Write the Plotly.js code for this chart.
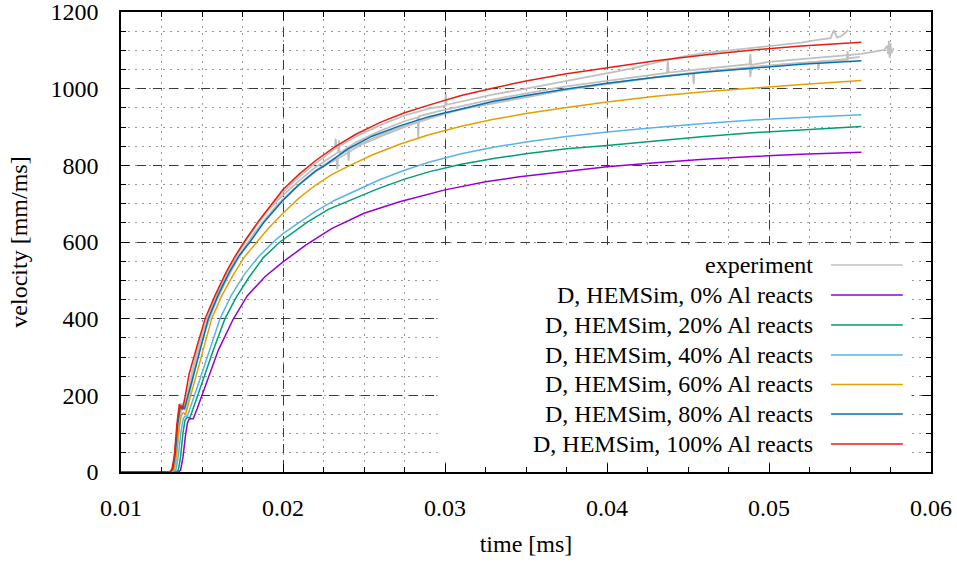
<!DOCTYPE html>
<html>
<head>
<meta charset="utf-8">
<script src="https://cdn.plot.ly/plotly-3.0.1.min.js"></script>
</head>
<body style="margin:0">
<div id="chart" style="width:957px;height:562px"></div>
<div style="font-family:'Liberation Serif';font-size:24px">time [ms] velocity [mm/ms] experiment D, HEMSim, 0% 20% 40% 60% 80% 100% Al reacts 0.01 1200</div>
<script>
// ---------- data ----------
var seriesNames = ["experiment", "D, HEMSim, 0% Al reacts", "D, HEMSim, 20% Al reacts",
  "D, HEMSim, 40% Al reacts", "D, HEMSim, 60% Al reacts", "D, HEMSim, 80% Al reacts",
  "D, HEMSim, 100% Al reacts"];

// experiment traces (time in ms, velocity in mm/ms)
var expA_t = [0.0100,0.0131,0.01325,0.0134,0.01355,0.0137,0.0138,0.0139,0.0141,0.0144,0.0147,0.0150,0.0155,0.0160,0.0166,0.0172,0.0178,0.0185,0.0192,0.0200,0.0210,0.0220,0.0232,0.02325,0.0233,0.0245,0.0260,0.0275,0.0290,0.0300,0.03005,0.0301,0.0310,0.0320,0.0330,0.0346,0.0360,0.0375,0.0390,0.0400,0.0415,0.0430,0.0445,0.0460,0.0475,0.0490,0.0500,0.0510,0.0520,0.0530,0.0538,0.0540,0.0542,0.0545,0.0549];
var expA_v = [0,0,20,80,150,178,172,168,205,265,320,362,420,470,525,570,612,652,690,730,770,805,843,870,845,875,905,930,948,955,985,958,967,976,985,997,1008,1020,1033,1040,1052,1068,1082,1093,1100,1106,1110,1115,1120,1127,1132,1152,1133,1138,1153];

var expB_t = [0.0100,0.0131,0.01325,0.0134,0.01355,0.01368,0.0138,0.01392,0.0141,0.0144,0.0147,0.0150,0.0155,0.0160,0.0166,0.0172,0.0178,0.0185,0.0192,0.0200,0.0210,0.0220,0.0228,0.0234,0.02345,0.0235,0.0245,0.0260,0.0275,0.0283,0.02835,0.0284,0.0295,0.0310,0.0325,0.0340,0.0355,0.0370,0.0385,0.0400,0.0415,0.0430,0.0437,0.04375,0.0438,0.0445,0.0460,0.0475,0.0488,0.04885,0.0489,0.0500,0.0515,0.0530,0.0545,0.0557,0.0565,0.0571,0.0573,0.05735,0.0574,0.05745,0.0575,0.05755,0.0577];
var expB_v = [0,0,12,60,135,168,172,166,205,262,318,360,418,470,522,568,610,652,688,722,760,795,818,834,865,832,860,890,915,925,868,928,940,955,968,980,992,1003,1012,1020,1028,1037,1041,1075,1042,1045,1052,1058,1064,1090,1062,1070,1075,1080,1086,1091,1097,1101,1112,1090,1125,1080,1118,1092,1106];

var expC_t = [0.0100,0.01318,0.01333,0.01348,0.01362,0.01375,0.01388,0.0140,0.0142,0.0145,0.0148,0.0152,0.0157,0.0163,0.0169,0.0175,0.0182,0.0189,0.0196,0.0204,0.0214,0.0224,0.0232,0.0240,0.02405,0.0241,0.0255,0.0270,0.0285,0.0300,0.0315,0.0330,0.0345,0.0360,0.0375,0.0390,0.0405,0.0420,0.0435,0.0450,0.0453,0.04535,0.0454,0.0465,0.0480,0.0495,0.0510,0.0525,0.0530,0.05305,0.0531,0.0540,0.0548,0.05485,0.0549,0.0556];
var expC_v = [0,0,15,70,140,165,168,160,210,270,322,375,430,485,535,578,622,660,695,728,765,798,820,840,812,843,870,896,918,937,950,962,974,986,997,1006,1015,1024,1033,1040,1041,1012,1042,1047,1053,1059,1064,1069,1070,1048,1071,1074,1078,1098,1079,1083];

var expD_t = [0.0100,0.01322,0.01338,0.01352,0.01366,0.01378,0.0139,0.01402,0.0142,0.0145,0.0149,0.0153,0.0158,0.0164,0.0170,0.0177,0.0184,0.0191,0.0199,0.0208,0.0218,0.0226,0.0233,0.02335,0.0234,0.0248,0.0263,0.0278,0.0293,0.0308,0.0323,0.0338,0.0353,0.0368,0.0383,0.0398,0.0413,0.0428,0.0443,0.0458,0.0473,0.0488,0.04885,0.0489,0.0503,0.0518,0.0533,0.0549];
var expD_v = [0,0,18,80,150,178,170,163,198,258,325,380,438,492,540,588,630,668,705,742,778,800,816,790,818,853,880,905,926,944,958,970,982,993,1003,1012,1020,1028,1036,1043,1049,1053,1030,1055,1061,1066,1071,1076];

// simulations
var al0_t = [0.0100,0.01355,0.01368,0.01383,0.01398,0.01410,0.01422,0.01446,0.0147,0.0152,0.01601,0.01693,0.0178,0.0189,0.0200,0.0214,0.0230,0.0250,0.0272,0.0300,0.0325,0.0346,0.0375,0.0400,0.0430,0.0460,0.0490,0.0520,0.0557];
var al0_v = [0,0,5,40,95,128,139,139,165,225,318,399,460,510,548,592,635,675,705,736,757,770,784,796,807,816,823,829,834];

var al20_t = [0.0100,0.0134,0.01354,0.01368,0.01382,0.01395,0.01406,0.01426,0.0150,0.0157,0.01642,0.0171,0.0179,0.0188,0.01981,0.0205,0.0215,0.0228,0.0243,0.0258,0.0275,0.0290,0.0310,0.0330,0.0350,0.0375,0.0400,0.0430,0.0460,0.0490,0.0520,0.0557];
var al20_v = [0,0,5,40,100,135,142,142,232,318,400,455,508,560,600,622,652,685,712,738,764,783,803,818,830,843,852,864,875,885,893,901];

var al40_t = [0.0100,0.0132,0.0134,0.01355,0.0137,0.01385,0.01397,0.01410,0.0148,0.01549,0.01611,0.0168,0.0176,0.0185,0.0194,0.0200,0.0210,0.0220,0.0232,0.0245,0.0260,0.0275,0.0290,0.0310,0.0330,0.0350,0.0375,0.0400,0.0430,0.0460,0.0490,0.0520,0.0557];
var al40_v = [0,0,6,45,105,140,146,146,233,318,400,460,515,562,600,622,652,680,709,735,763,787,808,830,847,861,875,887,899,909,918,925,932];

var al60_t = [0.0100,0.0131,0.01327,0.01342,0.01357,0.01372,0.01385,0.01400,0.0145,0.01508,0.0156,0.0162,0.0169,0.0176,0.01837,0.0191,0.0200,0.0210,0.0220,0.0230,0.02414,0.0255,0.0272,0.0290,0.0310,0.0330,0.0350,0.0375,0.0400,0.0430,0.0460,0.0490,0.0520,0.0557];
var al60_v = [0,0,6,45,110,148,155,152,230,318,400,458,512,560,600,636,675,715,748,776,800,827,855,880,902,920,935,951,965,980,992,1002,1011,1021];

var al80_t = [0.0100,0.01305,0.0132,0.01335,0.0135,0.01365,0.01375,0.01391,0.0144,0.01488,0.01539,0.0160,0.0167,0.0173,0.01796,0.0188,0.0200,0.0210,0.0220,0.02259,0.0240,0.0255,0.0272,0.0290,0.0310,0.0330,0.0350,0.0375,0.0400,0.0430,0.0460,0.0490,0.0520,0.0557];
var al80_v = [0,0,8,48,125,168,172,164,240,318,400,462,522,565,600,650,709,750,785,800,843,876,903,927,948,967,982,999,1014,1030,1043,1054,1064,1073];

var al100_t = [0.0100,0.0130,0.01315,0.01330,0.01345,0.01360,0.01370,0.01379,0.01395,0.01420,0.01467,0.01519,0.0158,0.0165,0.0170,0.0176,0.0185,0.0192,0.0200,0.0210,0.0220,0.0232,0.0245,0.0260,0.0275,0.0290,0.0310,0.0330,0.0350,0.0375,0.0400,0.0430,0.0460,0.0490,0.0520,0.0557];
var al100_v = [0,0,8,45,125,177,170,163,195,255,325,400,460,522,560,600,655,693,737,777,812,848,881,912,937,957,982,1002,1020,1039,1055,1073,1088,1101,1111,1121];

var xTickVals = [0.01,0.02,0.03,0.04,0.05,0.06];
var xTickText = ["0.01","0.02","0.03","0.04","0.05","0.06"];
var yTickVals = [0,200,400,600,800,1000,1200];
var yTickText = ["0","200","400","600","800","1000","1200"];

// ---------- styles ----------
var simColors = ["#9400d3","#009e73","#56b4e9","#e69f00","#0072b2","#e51e10"];
var expColor = "#c0c0c0";
var fontFam = "Liberation Serif";

var expSets = [[expA_t,expA_v],[expB_t,expB_v],[expC_t,expC_v],[expD_t,expD_v]];
var simSets = [[al0_t,al0_v],[al20_t,al20_v],[al40_t,al40_v],[al60_t,al60_v],[al80_t,al80_v],[al100_t,al100_v]];

var traces = [];
expSets.forEach(function(s, i){
  traces.push({x:s[0], y:s[1], type:"scatter", mode:"lines", name:seriesNames[0],
    showlegend:false, line:{color:expColor, width:1.8}, hoverinfo:"skip"});
});
simSets.forEach(function(s, i){
  traces.push({x:s[0], y:s[1], type:"scatter", mode:"lines", name:seriesNames[i+1],
    showlegend:false, line:{color:simColors[i], width:1.5}});
});

// manual legend (text left of sample line, as in the reference)
var legendY = [540, 461.7, 383.5, 305.2, 228.3, 151.3, 73.0];
var legendColors = [expColor].concat(simColors);
var annotations = [];
var shapes = [{type:"rect", xref:"x", yref:"y", x0:0.02955, x1:0.0588, y0:25, y1:580,
  fillcolor:"#ffffff", line:{width:0}, layer:"between"}];
seriesNames.forEach(function(n, i){
  annotations.push({xref:"x", yref:"y", x:0.05284, y:legendY[i], text:n, showarrow:false,
    xanchor:"right", yanchor:"middle", font:{family:fontFam, size:24, color:"#000"}});
  shapes.push({type:"line", xref:"x", yref:"y", x0:0.05383, x1:0.05826, y0:legendY[i], y1:legendY[i],
    line:{color:legendColors[i], width:1.5}, layer:"above"});
});

function axisBase(){
  return {
    showline:true, linecolor:"#000", linewidth:1.6, mirror:"allticks",
    ticks:"inside", ticklen:8, tickwidth:1.2, tickcolor:"#000",
    showgrid:true, gridcolor:"#3a3a3a", gridwidth:1.2, griddash:"9px,7px",
    zeroline:false, ticklabeloverflow:"allow",
    tickfont:{family:fontFam, size:24, color:"#000"}
  };
}

var layout = {
  width:957, height:562,
  margin:{l:121, r:26, t:12, b:90},
  paper_bgcolor:"#fff", plot_bgcolor:"#fff",
  showlegend:false,
  xaxis:Object.assign(axisBase(), {
    range:[0.01,0.06], tickvals:xTickVals, ticktext:xTickText, ticklabelstandoff:13,
    minor:{dtick:0.0025, ticks:"inside", ticklen:5, tickcolor:"#000", tickwidth:1,
      showgrid:true, gridcolor:"#9a9a9a", gridwidth:1, griddash:"2px,5px"},
    title:{text:"time [ms]", font:{family:fontFam, size:24, color:"#000"}, standoff:16}
  }),
  yaxis:Object.assign(axisBase(), {
    range:[0,1200], tickvals:yTickVals, ticktext:yTickText, ticklabelstandoff:16,
    minor:{dtick:50, ticks:"inside", ticklen:5, tickcolor:"#000", tickwidth:1,
      showgrid:true, gridcolor:"#9a9a9a", gridwidth:1, griddash:"2px,5px"},
    title:{text:"velocity [mm/ms]", font:{family:fontFam, size:24, color:"#000"}, standoff:16}
  }),
  annotations:annotations,
  shapes:shapes
};

Plotly.newPlot("chart", traces, layout, {displayModeBar:false});
</script>
</body>
</html>
